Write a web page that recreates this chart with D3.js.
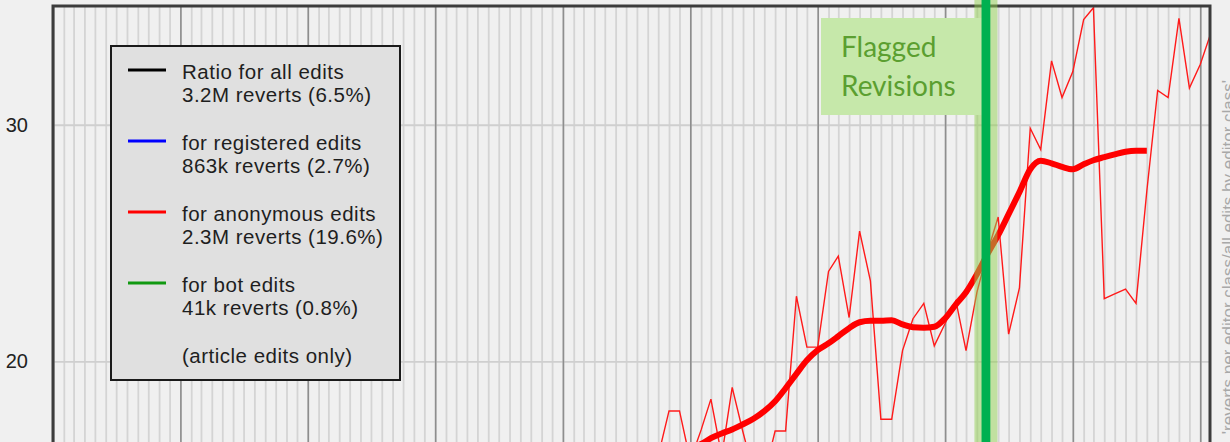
<!DOCTYPE html>
<html>
<head>
<meta charset="utf-8">
<script src="https://cdn.jsdelivr.net/npm/d3@7"></script>
<style>
  html, body { margin: 0; padding: 0; background: #f0f0f0; }
  svg { display: block; }
</style>
</head>
<body>
<svg id="chart" width="1230" height="442"></svg>
<script>
// ---------------- data ----------------
const anonMonths = ["2005-10","2005-11","2005-12","2006-01","2006-02","2006-03","2006-04","2006-05","2006-06","2006-07","2006-08","2006-09","2006-10","2006-11","2006-12",
  "2007-01","2007-02","2007-03","2007-04","2007-05","2007-06","2007-07","2007-08","2007-09","2007-10","2007-11","2007-12",
  "2008-01","2008-02","2008-03","2008-04","2008-05","2008-06","2008-07","2008-08","2008-09","2008-10","2008-11","2008-12",
  "2009-01","2009-02","2009-03","2009-04","2009-05","2009-06","2009-07","2009-08","2009-09","2009-10","2009-11","2009-12",
  "2010-01","2010-02"];
const anonMonthly = [16.0,17.9,17.9,15.8,17.1,18.4,16.0,18.9,17.0,15.3,15.2,17.05,17.05,22.75,20.6,
  20.6,23.8,24.45,21.85,25.5,23.4,17.55,17.55,20.45,21.8,22.45,20.65,
  21.6,22.55,20.45,22.9,24.6,26.1,21.15,23.1,29.85,28.95,32.7,31.15,
  32.25,34.45,34.95,22.65,22.85,23.05,22.45,27.2,31.45,31.15,34.5,31.55,
  32.55,33.9];
const trendMonths = ["2005-12","2006-01","2006-02","2006-03","2006-04","2006-05","2006-06","2006-07","2006-08","2006-09","2006-10","2006-11","2006-12",
  "2007-01","2007-02","2007-03","2007-04","2007-05","2007-06","2007-07","2007-08","2007-09","2007-10","2007-11","2007-12",
  "2008-01","2008-02","2008-03","2008-04","2008-05","2008-06","2008-07","2008-08","2008-09","2008-10","2008-11","2008-12",
  "2009-01","2009-02","2009-03","2009-04","2009-05","2009-06","2009-07","2009-08"];
const anonTrend = [16.2,16.35,16.5,16.75,16.95,17.12,17.34,17.57,17.89,18.31,18.86,19.47,20.04,
  20.47,20.76,21.06,21.4,21.65,21.71,21.71,21.73,21.56,21.44,21.42,21.46,
  21.82,22.41,22.92,23.68,24.52,25.33,26.22,27.15,28.12,28.48,28.37,28.22,
  28.12,28.33,28.5,28.63,28.75,28.86,28.9,28.9];
const yTicks = [20, 30];
const flaggedDate = "2008-04-27";
const flaggedLabel = ["Flagged", "Revisions"];
const legendItems = [
  {color: "#000000", lines: ["Ratio for all edits", "3.2M reverts (6.5%)"]},
  {color: "#0000ff", lines: ["for registered edits", "863k reverts (2.7%)"]},
  {color: "#ff0000", lines: ["for anonymous edits", "2.3M reverts (19.6%)"]},
  {color: "#119911", lines: ["for bot edits", "41k reverts (0.8%)"]}
];
const legendNote = "(article edits only)";
const rightAxisLabel = "'reverts per editor class/all edits by editor class'";

// ---------------- layout ----------------
const svg = d3.select("#chart");
const W = 1230, H = 442;
const plot = {left: 53, right: 1210, top: 6, bottom: 456};
const parseM = d3.timeParse("%Y-%m");
const parseD = d3.timeParse("%Y-%m-%d");

const x = d3.scaleTime()
  .domain([new Date(2001, 0, 1), new Date(2010, 0, 29)])
  .range([plot.left, plot.right]);
const y = d3.scaleLinear()
  .domain([16, 35])
  .range([455.9, 6.5]);

svg.append("rect").attr("width", W).attr("height", H).attr("fill", "#f0f0f0");

svg.append("defs").append("clipPath").attr("id", "plotclip")
  .append("rect").attr("x", plot.left).attr("y", plot.top)
  .attr("width", plot.right - plot.left).attr("height", plot.bottom - plot.top);

// minor monthly grid
const gMinor = svg.append("g")
  .attr("transform", `translate(0,${plot.top})`)
  .call(d3.axisTop(x).ticks(d3.timeMonth.every(1)).tickSize(-(plot.bottom - plot.top)).tickFormat(""));
gMinor.select(".domain").remove();
gMinor.selectAll("line").attr("stroke", "#d4d4d4").attr("stroke-width", 1.8);

// horizontal grid
const gHoriz = svg.append("g")
  .attr("transform", `translate(${plot.left},0)`)
  .call(d3.axisLeft(y).tickValues(yTicks).tickSize(-(plot.right - plot.left)).tickFormat(""));
gHoriz.select(".domain").remove();
gHoriz.selectAll("line").attr("stroke", "#cfcfcf").attr("stroke-width", 1.8);

// major yearly grid
const gMajor = svg.append("g")
  .attr("transform", `translate(0,${plot.top})`)
  .call(d3.axisTop(x).ticks(d3.timeYear.every(1)).tickSize(-(plot.bottom - plot.top)).tickFormat(""));
gMajor.select(".domain").remove();
gMajor.selectAll("line").attr("stroke", "#8e8e8e").attr("stroke-width", 1.6);

// y labels
const gY = svg.append("g")
  .attr("transform", `translate(${plot.left},0)`)
  .call(d3.axisLeft(y).tickValues(yTicks).tickSize(0).tickPadding(25).tickFormat(d3.format("d")));
gY.select(".domain").remove();
gY.selectAll("text").attr("font-family", "'Liberation Sans', Arial, sans-serif")
  .attr("font-size", 20).attr("fill", "#222");

// data
const dataG = svg.append("g").attr("clip-path", "url(#plotclip)");
const thin = anonMonths.map((m, i) => ({d: parseM(m), v: anonMonthly[i]}));
const trend = trendMonths.map((m, i) => ({d: parseM(m), v: anonTrend[i]}));
dataG.append("path").datum(thin)
  .attr("fill", "none").attr("stroke", "#ff1a1a").attr("stroke-width", 1.4)
  .attr("stroke-linejoin", "miter")
  .attr("d", d3.line().x(p => x(p.d)).y(p => y(p.v)));
dataG.append("path").datum(trend)
  .attr("fill", "none").attr("stroke", "#ff0000").attr("stroke-width", 6)
  .attr("stroke-linejoin", "round").attr("stroke-linecap", "butt")
  .attr("d", d3.line().curve(d3.curveMonotoneX).x(p => x(p.d)).y(p => y(p.v)));

// border
svg.append("rect")
  .attr("x", plot.left).attr("y", plot.top)
  .attr("width", plot.right - plot.left).attr("height", plot.bottom - plot.top)
  .attr("fill", "none").attr("stroke", "#3c3c3c").attr("stroke-width", 3);

// flagged revisions marker
const fx = x(parseD(flaggedDate));
svg.append("rect").attr("x", fx - 11.5).attr("y", 0).attr("width", 23).attr("height", H)
  .attr("fill", "#92d050").attr("opacity", 0.5);
svg.append("rect").attr("x", 821).attr("y", 18).attr("width", fx - 4 - 821).attr("height", 97)
  .attr("fill", "#c6e8aa");
svg.append("rect").attr("x", fx - 4.4).attr("y", 0).attr("width", 8.8).attr("height", H)
  .attr("fill", "#00b050");
svg.append("g").selectAll("text").data(flaggedLabel).join("text")
  .attr("x", 841).attr("y", (d, i) => 57 + i * 39)
  .attr("font-family", "Lato, 'Open Sans', sans-serif").attr("font-size", 28)
  .attr("fill", "#5b9f30").text(d => d);

// right axis label
svg.append("text")
  .attr("transform", "translate(1234,80) rotate(-90)")
  .attr("text-anchor", "end")
  .attr("font-family", "'Liberation Sans', Arial, sans-serif").attr("font-size", 17)
  .attr("fill", "#a8a8a8").text(rightAxisLabel);

// legend
const lg = svg.append("g");
lg.append("rect").attr("x", 111).attr("y", 46).attr("width", 289).attr("height", 334)
  .attr("fill", "#e0e0e0").attr("stroke", "#1a1a1a").attr("stroke-width", 2);
const items = lg.selectAll("g.item").data(legendItems).join("g").attr("class", "item")
  .attr("transform", (d, i) => `translate(0,${i * 71})`);
items.append("line").attr("x1", 128).attr("x2", 166).attr("y1", 70).attr("y2", 70)
  .attr("stroke", d => d.color).attr("stroke-width", 3);
items.each(function(d) {
  d3.select(this).selectAll("text").data(d.lines).join("text")
    .attr("x", 182).attr("y", (t, j) => 79 + j * 23)
    .attr("font-family", "'Liberation Sans', Arial, sans-serif").attr("font-size", 20.5)
    .attr("letter-spacing", 0.5).attr("fill", "#1e1e1e").text(t => t);
});
lg.append("text").attr("x", 182).attr("y", 363)
  .attr("font-family", "'Liberation Sans', Arial, sans-serif").attr("font-size", 20.5)
  .attr("letter-spacing", 0.5).attr("fill", "#1e1e1e").text(legendNote);
</script>
</body>
</html>
